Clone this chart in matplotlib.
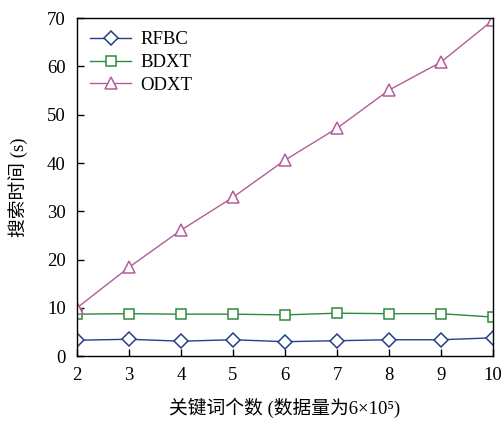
import matplotlib
matplotlib.use("Agg")
import matplotlib.pyplot as plt

# keyword count vs search time
keywords = [2, 3, 4, 5, 6, 7, 8, 9, 10]
rfbc = [3.3, 3.5, 3.1, 3.4, 3.0, 3.2, 3.4, 3.4, 3.8]
bdxt = [8.7, 8.8, 8.7, 8.7, 8.55, 8.9, 8.8, 8.8, 8.1]
odxt = [10.0, 18.4, 26.1, 32.9, 40.6, 47.2, 55.1, 60.9, 69.6]

xticks = [2, 3, 4, 5, 6, 7, 8, 9, 10]
yticks = [0, 10, 20, 30, 40, 50, 60, 70]

plt.rcParams["font.family"] = ["Liberation Serif", "Noto Sans CJK SC"]
plt.rcParams["font.size"] = 13.5

fig = plt.figure(figsize=(5.03, 4.23), dpi=100)
ax = fig.add_axes([0.153, 0.158, 0.827, 0.799])

ax.plot(keywords, rfbc, color="#253f8c", marker="D", markersize=7.5,
        markerfacecolor="white", markeredgewidth=1.1, linewidth=1.0, label="RFBC")
ax.plot(keywords, bdxt, color="#2f8a3c", marker="s", markersize=7.5,
        markerfacecolor="white", markeredgewidth=1.1, linewidth=1.0, label="BDXT")
ax.plot(keywords, odxt, color="#b35c9b", marker="^", markersize=9,
        markerfacecolor="white", markeredgewidth=1.1, linewidth=1.0, label="ODXT")

ax.set_xlim(2, 10)
ax.set_ylim(0, 70)
ax.set_xticks(xticks)
ax.set_yticks(yticks)
ax.tick_params(direction="in", length=5, width=1.0, pad=8)
for s in ax.spines.values():
    s.set_linewidth(1.0)

ax.set_xlabel("关键词个数 (数据量为6×10⁵)", labelpad=10)
ax.set_ylabel("搜索时间 (s)", labelpad=14)

ax.legend(loc="upper left", frameon=False, handlelength=2.2,
          borderaxespad=0.3, labelspacing=0.3, handletextpad=0.5)

fig.savefig("out.png", dpi=100)
